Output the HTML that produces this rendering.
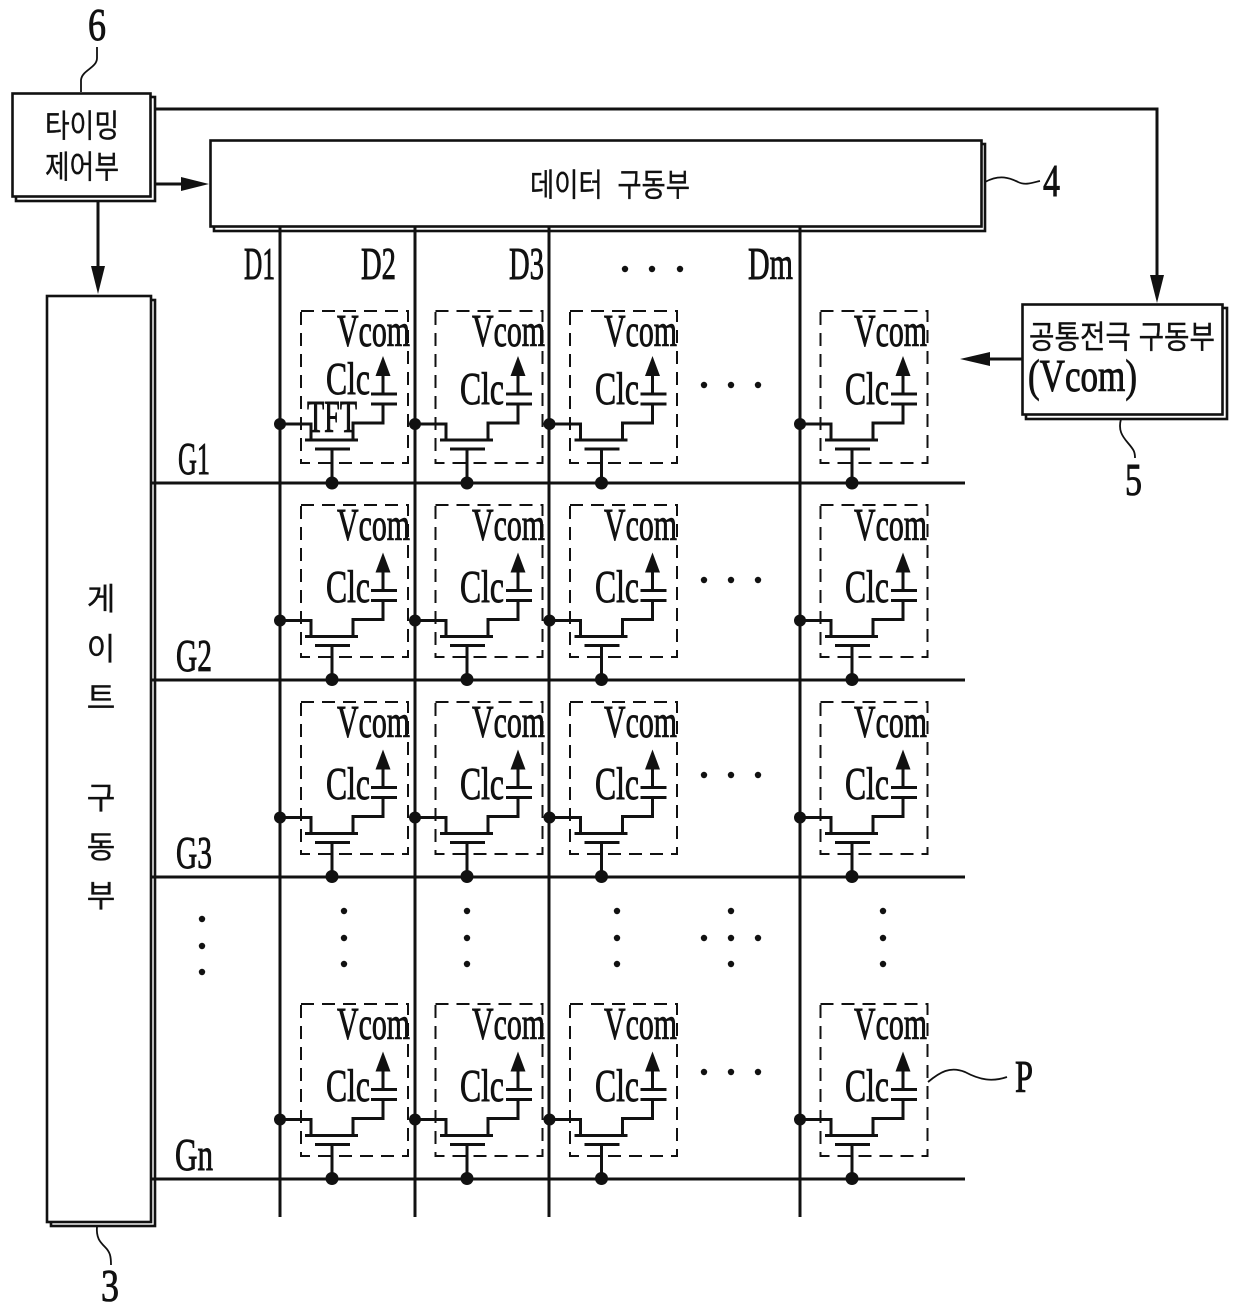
<!DOCTYPE html>
<html><head><meta charset="utf-8"><style>
html,body{margin:0;padding:0;background:#fff}
svg{display:block}
.e{font-family:"Liberation Serif",serif;font-size:45px;fill:#111;stroke:#111;stroke-width:.9}
.k{font-family:"Liberation Sans","Noto Sans CJK KR",sans-serif;fill:#111;stroke:#111;stroke-width:.35}
.w{fill:none;stroke:#111;stroke-width:3}
.t{fill:none;stroke:#111;stroke-width:1.8}
.b{fill:#fff;stroke:#111;stroke-width:2.6}
</style></head><body>
<svg xmlns="http://www.w3.org/2000/svg" width="1240" height="1315" viewBox="0 0 1240 1315">
<defs>
<g id="c">
<path class="w" d="M280 424H311V440M305 440H358M353 440V423H383V404M371 404H397M371 394H397M383 394V372M315 449H350M332 449V483"/>
<path d="M383 356L375.500 376H390.500Z" fill="#111"/>
<circle cx="280" cy="424" r="6" fill="#111"/>
<circle cx="332" cy="483" r="6.500" fill="#111"/>
</g>
<rect id="d" x="301" y="311" width="107" height="152" fill="none" stroke="#111" stroke-width="2" stroke-dasharray="13 8"/>
</defs>

<!-- boxes -->
<rect class="b" x="16" y="97" width="139" height="104"/><rect class="b" x="12.500" y="93.500" width="138" height="103"/>
<rect class="b" x="214" y="144" width="771" height="87"/><rect class="b" x="210.500" y="140.500" width="771" height="86"/>
<rect class="b" x="51" y="300" width="104" height="926"/><rect class="b" x="47" y="296" width="104" height="926"/>
<rect class="b" x="1026" y="308" width="201" height="111"/><rect class="b" x="1022.500" y="304.500" width="200" height="110"/>

<!-- connectors -->
<path class="w" d="M155 109H1157V280M155 184H190M98 201V270M1022 359H985"/>
<path d="M1157 303L1150 275H1164Z M209 184L181 177V191Z M98 294L91 266H105Z M960 359L990 352V366Z" fill="#111"/>
<path class="w" d="M280 227V1217M415 227V1217M549 227V1217M800 227V1217"/>
<path class="w" d="M151 483H965M151 680H965M151 877H965M151 1179H965"/>

<!-- cells -->
<use href="#c"/><use href="#c" x="135"/><use href="#c" x="269.500"/><use href="#c" x="520"/>
<use href="#c" y="196.500"/><use href="#c" x="135" y="196.500"/><use href="#c" x="269.500" y="196.500"/><use href="#c" x="520" y="196.500"/>
<use href="#c" y="393.500"/><use href="#c" x="135" y="393.500"/><use href="#c" x="269.500" y="393.500"/><use href="#c" x="520" y="393.500"/>
<use href="#c" y="695.500"/><use href="#c" x="135" y="695.500"/><use href="#c" x="269.500" y="695.500"/><use href="#c" x="520" y="695.500"/>
<use href="#d"/><use href="#d" x="134.500"/><use href="#d" x="269"/><use href="#d" x="519.500"/>
<use href="#d" y="194"/><use href="#d" x="134.500" y="194"/><use href="#d" x="269" y="194"/><use href="#d" x="519.500" y="194"/>
<use href="#d" y="391"/><use href="#d" x="134.500" y="391"/><use href="#d" x="269" y="391"/><use href="#d" x="519.500" y="391"/>
<use href="#d" y="693"/><use href="#d" x="134.500" y="693"/><use href="#d" x="269" y="693"/><use href="#d" x="519.500" y="693"/>

<g class="e">
<text x="337" y="346" textLength="73" lengthAdjust="spacingAndGlyphs">Vcom</text><text x="472" y="346" textLength="73" lengthAdjust="spacingAndGlyphs">Vcom</text><text x="604" y="346" textLength="73" lengthAdjust="spacingAndGlyphs">Vcom</text><text x="854" y="346" textLength="73" lengthAdjust="spacingAndGlyphs">Vcom</text>
<text x="337" y="540" textLength="73" lengthAdjust="spacingAndGlyphs">Vcom</text><text x="472" y="540" textLength="73" lengthAdjust="spacingAndGlyphs">Vcom</text><text x="604" y="540" textLength="73" lengthAdjust="spacingAndGlyphs">Vcom</text><text x="854" y="540" textLength="73" lengthAdjust="spacingAndGlyphs">Vcom</text>
<text x="337" y="737" textLength="73" lengthAdjust="spacingAndGlyphs">Vcom</text><text x="472" y="737" textLength="73" lengthAdjust="spacingAndGlyphs">Vcom</text><text x="604" y="737" textLength="73" lengthAdjust="spacingAndGlyphs">Vcom</text><text x="854" y="737" textLength="73" lengthAdjust="spacingAndGlyphs">Vcom</text>
<text x="337" y="1039" textLength="73" lengthAdjust="spacingAndGlyphs">Vcom</text><text x="472" y="1039" textLength="73" lengthAdjust="spacingAndGlyphs">Vcom</text><text x="604" y="1039" textLength="73" lengthAdjust="spacingAndGlyphs">Vcom</text><text x="854" y="1039" textLength="73" lengthAdjust="spacingAndGlyphs">Vcom</text>

<text x="326" y="394" textLength="44" lengthAdjust="spacingAndGlyphs">Clc</text><text x="460" y="404" textLength="44" lengthAdjust="spacingAndGlyphs">Clc</text><text x="595" y="404" textLength="44" lengthAdjust="spacingAndGlyphs">Clc</text><text x="845" y="404" textLength="44" lengthAdjust="spacingAndGlyphs">Clc</text>
<text x="326" y="602" textLength="44" lengthAdjust="spacingAndGlyphs">Clc</text><text x="460" y="602" textLength="44" lengthAdjust="spacingAndGlyphs">Clc</text><text x="595" y="602" textLength="44" lengthAdjust="spacingAndGlyphs">Clc</text><text x="845" y="602" textLength="44" lengthAdjust="spacingAndGlyphs">Clc</text>
<text x="326" y="799" textLength="44" lengthAdjust="spacingAndGlyphs">Clc</text><text x="460" y="799" textLength="44" lengthAdjust="spacingAndGlyphs">Clc</text><text x="595" y="799" textLength="44" lengthAdjust="spacingAndGlyphs">Clc</text><text x="845" y="799" textLength="44" lengthAdjust="spacingAndGlyphs">Clc</text>
<text x="326" y="1101" textLength="44" lengthAdjust="spacingAndGlyphs">Clc</text><text x="460" y="1101" textLength="44" lengthAdjust="spacingAndGlyphs">Clc</text><text x="595" y="1101" textLength="44" lengthAdjust="spacingAndGlyphs">Clc</text><text x="845" y="1101" textLength="44" lengthAdjust="spacingAndGlyphs">Clc</text>

<text x="307" y="432" textLength="50" lengthAdjust="spacingAndGlyphs">TFT</text>
<text x="244" y="279" textLength="31" lengthAdjust="spacingAndGlyphs">D1</text>
<text x="361" y="279" textLength="35" lengthAdjust="spacingAndGlyphs">D2</text>
<text x="509" y="279" textLength="35" lengthAdjust="spacingAndGlyphs">D3</text>
<text x="748" y="279" textLength="45" lengthAdjust="spacingAndGlyphs">Dm</text>
<text x="178" y="474" textLength="32" lengthAdjust="spacingAndGlyphs">G1</text>
<text x="176" y="671" textLength="36" lengthAdjust="spacingAndGlyphs">G2</text>
<text x="176" y="868" textLength="36" lengthAdjust="spacingAndGlyphs">G3</text>
<text x="175" y="1170" textLength="38" lengthAdjust="spacingAndGlyphs">Gn</text>
<text x="88" y="40" textLength="18" lengthAdjust="spacingAndGlyphs">6</text>
<text x="1043" y="196" textLength="17" lengthAdjust="spacingAndGlyphs">4</text>
<text x="1125" y="495" textLength="17" lengthAdjust="spacingAndGlyphs">5</text>
<text x="101" y="1301" textLength="18" lengthAdjust="spacingAndGlyphs">3</text>
<text x="1015" y="1092" textLength="18" lengthAdjust="spacingAndGlyphs">P</text>
<text x="1028" y="391" textLength="109" lengthAdjust="spacingAndGlyphs">(Vcom)</text>
</g>

<!-- Korean labels -->
<g class="k">
<text x="45" y="137" font-size="32" textLength="74" lengthAdjust="spacingAndGlyphs">타이밍</text>
<text x="45" y="178" font-size="32" textLength="74" lengthAdjust="spacingAndGlyphs">제어부</text>
<text x="530" y="196" font-size="32" textLength="160" lengthAdjust="spacingAndGlyphs" xml:space="preserve">데이터  구동부</text>
<text x="1029" y="348" font-size="32" textLength="186" lengthAdjust="spacingAndGlyphs">공통전극 구동부</text>
<text x="101" y="610" font-size="31" text-anchor="middle">게</text>
<text x="101" y="660" font-size="31" text-anchor="middle">이</text>
<text x="101" y="709" font-size="31" text-anchor="middle">트</text>
<text x="101" y="809" font-size="31" text-anchor="middle">구</text>
<text x="101" y="858" font-size="31" text-anchor="middle">동</text>
<text x="101" y="907" font-size="31" text-anchor="middle">부</text>
</g>

<!-- leaders -->
<path class="t" d="M81 92V80C82 70 97 68 97 58V47"/>
<path class="t" d="M985 182C1000 174 1010 178 1018 182C1026 186 1034 182 1040 181"/>
<path class="t" d="M1121 419C1118 430 1122 436 1128 443C1134 450 1135 452 1135 458"/>
<path class="t" d="M97 1226C96 1238 100 1242 105 1247C110 1252 111 1256 111 1265"/>
<path class="t" d="M928 1082C940 1072 950 1066 965 1072C980 1080 992 1082 1007 1077"/>

<!-- ellipsis dots -->
<g fill="#111">
<circle cx="625" cy="269" r="3.200"/><circle cx="652" cy="269" r="3.200"/><circle cx="680" cy="269" r="3.200"/>
<circle cx="704" cy="385" r="3.200"/><circle cx="731" cy="385" r="3.200"/><circle cx="758" cy="385" r="3.200"/>
<circle cx="704" cy="580" r="3.200"/><circle cx="731" cy="580" r="3.200"/><circle cx="758" cy="580" r="3.200"/>
<circle cx="704" cy="775" r="3.200"/><circle cx="731" cy="775" r="3.200"/><circle cx="758" cy="775" r="3.200"/>
<circle cx="704" cy="1072" r="3.200"/><circle cx="731" cy="1072" r="3.200"/><circle cx="758" cy="1072" r="3.200"/>
<circle cx="202" cy="919" r="3.200"/><circle cx="202" cy="946" r="3.200"/><circle cx="202" cy="972" r="3.200"/>
<circle cx="344" cy="911" r="3.200"/><circle cx="344" cy="938" r="3.200"/><circle cx="344" cy="964" r="3.200"/>
<circle cx="467" cy="911" r="3.200"/><circle cx="467" cy="938" r="3.200"/><circle cx="467" cy="964" r="3.200"/>
<circle cx="617" cy="911" r="3.200"/><circle cx="617" cy="938" r="3.200"/><circle cx="617" cy="964" r="3.200"/>
<circle cx="883" cy="911" r="3.200"/><circle cx="883" cy="938" r="3.200"/><circle cx="883" cy="964" r="3.200"/>
<circle cx="731" cy="911" r="3.200"/><circle cx="731" cy="938" r="3.200"/><circle cx="731" cy="964" r="3.200"/>
<circle cx="704" cy="938" r="3.200"/><circle cx="758" cy="938" r="3.200"/>
</g>
</svg>
</body></html>
